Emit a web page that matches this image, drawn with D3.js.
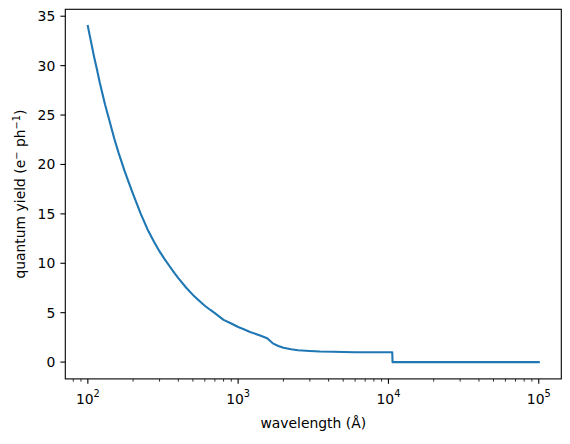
<!DOCTYPE html>
<meta charset="utf-8">
<style>
    body {
        margin: 0;
        background: #fff;
        font-family: "DejaVu Sans", sans-serif;
    }

    .axis text {
        font-size: 13.9px;
        fill: #000;
    }
</style>

<body>
    <script src="https://cdn.jsdelivr.net/npm/d3@7"></script>
    <script>

        // wavelength in Angstrom and quantum yield
        var wavelength = [100, 105, 110, 115, 120, 130, 140, 150, 160, 175, 185, 200, 225, 250, 275, 300,
            325, 350, 375, 400, 450, 500, 560, 600, 650, 700, 750, 800,
            900, 1000, 1100, 1200, 1400, 1560, 1700, 1850, 2000, 2250, 2500, 3000, 3500, 4300, 5000, 6000, 10600,
            10650, 100000];
        var qyield = [34.0, 32.4, 30.9, 29.6, 28.3, 26.1, 24.3, 22.6, 21.2, 19.4, 18.4, 17.0, 15.0, 13.4, 12.2, 11.2,
            10.4, 9.7, 9.05, 8.5, 7.55, 6.8, 6.1, 5.7, 5.3, 4.95, 4.6, 4.27,
            3.9, 3.55, 3.3, 3.05, 2.7, 2.42, 1.9, 1.63, 1.45, 1.3, 1.2, 1.12, 1.07, 1.04, 1.02, 1.0, 1.0,
            0, 0];
        var yTicks = [0, 5, 10, 15, 20, 25, 30, 35];
        var xTicks = [1e2, 1e3, 1e4, 1e5];

        var width = 570, height = 444;
        var margin = { top: 9.3, right: 8.7, bottom: 65.1, left: 65.3 },
            w = width - margin.left - margin.right,
            h = height - margin.top - margin.bottom;

        var svg = d3.select("body").append("svg")
            .attr("width", width)
            .attr("height", height);

        var g = svg.append("g")
            .attr("transform", "translate(" + margin.left + "," + margin.top + ")");

        var data = wavelength.map(function (d, i) {
            return { x: d, y: qyield[i] };
        });

        // matplotlib style 5% margins
        var lx0 = Math.log10(d3.min(wavelength)), lx1 = Math.log10(d3.max(wavelength));
        var px = (lx1 - lx0) * 0.05;
        var x = d3.scaleLog()
            .domain([Math.pow(10, lx0 - px), Math.pow(10, lx1 + px)])
            .range([0, w]);

        var y0 = d3.min(qyield), y1 = d3.max(qyield);
        var py = (y1 - y0) * 0.05;
        var y = d3.scaleLinear()
            .domain([y0 - py, y1 + py])
            .range([h, 0]);

        // minor ticks
        var minor = [];
        [1, 2, 3, 4, 5].forEach(function (e) {
            for (var k = 2; k <= 9; k++) {
                var v = k * Math.pow(10, e);
                if (v >= x.domain()[0] && v <= x.domain()[1]) minor.push(v);
            }
        });

        var xAxis = g.append("g")
            .attr("class", "axis")
            .attr("transform", "translate(0," + h + ")");

        xAxis.selectAll(".minor")
            .data(minor)
            .enter()
            .append("line")
            .attr("x1", function (d) { return x(d); })
            .attr("x2", function (d) { return x(d); })
            .attr("y1", 0)
            .attr("y2", 2.8)
            .attr("stroke", "#000")
            .attr("stroke-width", 0.8);

        var xt = xAxis.selectAll(".major")
            .data(xTicks)
            .enter()
            .append("g")
            .attr("transform", function (d) { return "translate(" + x(d) + ",0)"; });

        xt.append("line")
            .attr("y2", 4.9)
            .attr("stroke", "#000")
            .attr("stroke-width", 1.1);

        var xl = xt.append("text")
            .attr("y", 24.8)
            .attr("text-anchor", "middle");
        xl.append("tspan").text("10");
        xl.append("tspan")
            .attr("dy", -6.5)
            .attr("font-size", "9.8px")
            .text(function (d) { return Math.round(Math.log10(d)); });

        var yAxis = g.append("g").attr("class", "axis");

        var yt = yAxis.selectAll(".major")
            .data(yTicks)
            .enter()
            .append("g")
            .attr("transform", function (d) { return "translate(0," + y(d) + ")"; });

        yt.append("line")
            .attr("x2", -4.9)
            .attr("stroke", "#000")
            .attr("stroke-width", 1.1);

        yt.append("text")
            .attr("x", -10)
            .attr("dy", "0.36em")
            .attr("text-anchor", "end")
            .text(function (d) { return d; });

        var line = d3.line()
            .x(function (d) { return x(d.x); })
            .y(function (d) { return y(d.y); });

        g.append("path")
            .datum(data)
            .attr("fill", "none")
            .attr("stroke", "#1f77b4")
            .attr("stroke-width", 2.1)
            .attr("stroke-linejoin", "round")
            .attr("stroke-linecap", "square")
            .attr("d", line);

        g.append("rect")
            .attr("width", w)
            .attr("height", h)
            .attr("fill", "none")
            .attr("stroke", "#000")
            .attr("stroke-width", 1.1);

        // axis labels
        var xlab = svg.append("text")
            .attr("class", "axis")
            .attr("x", margin.left + w / 2)
            .attr("y", 428)
            .attr("text-anchor", "middle")
            .attr("font-size", "13.9px");
        xlab.append("tspan").text("wavelength (Å)");

        var ylab = svg.append("text")
            .attr("transform", "translate(25," + (margin.top + h / 2) + ") rotate(-90)")
            .attr("text-anchor", "middle")
            .attr("font-size", "13.9px");
        ylab.append("tspan").text("quantum yield (e");
        ylab.append("tspan").attr("dy", -5.5).attr("font-size", "9.8px").text("−");
        ylab.append("tspan").attr("dy", 5.5).text(" ph");
        ylab.append("tspan").attr("dy", -5.5).attr("font-size", "9.8px").text("−1");
        ylab.append("tspan").attr("dy", 5.5).text(")");

    </script>
</body>
